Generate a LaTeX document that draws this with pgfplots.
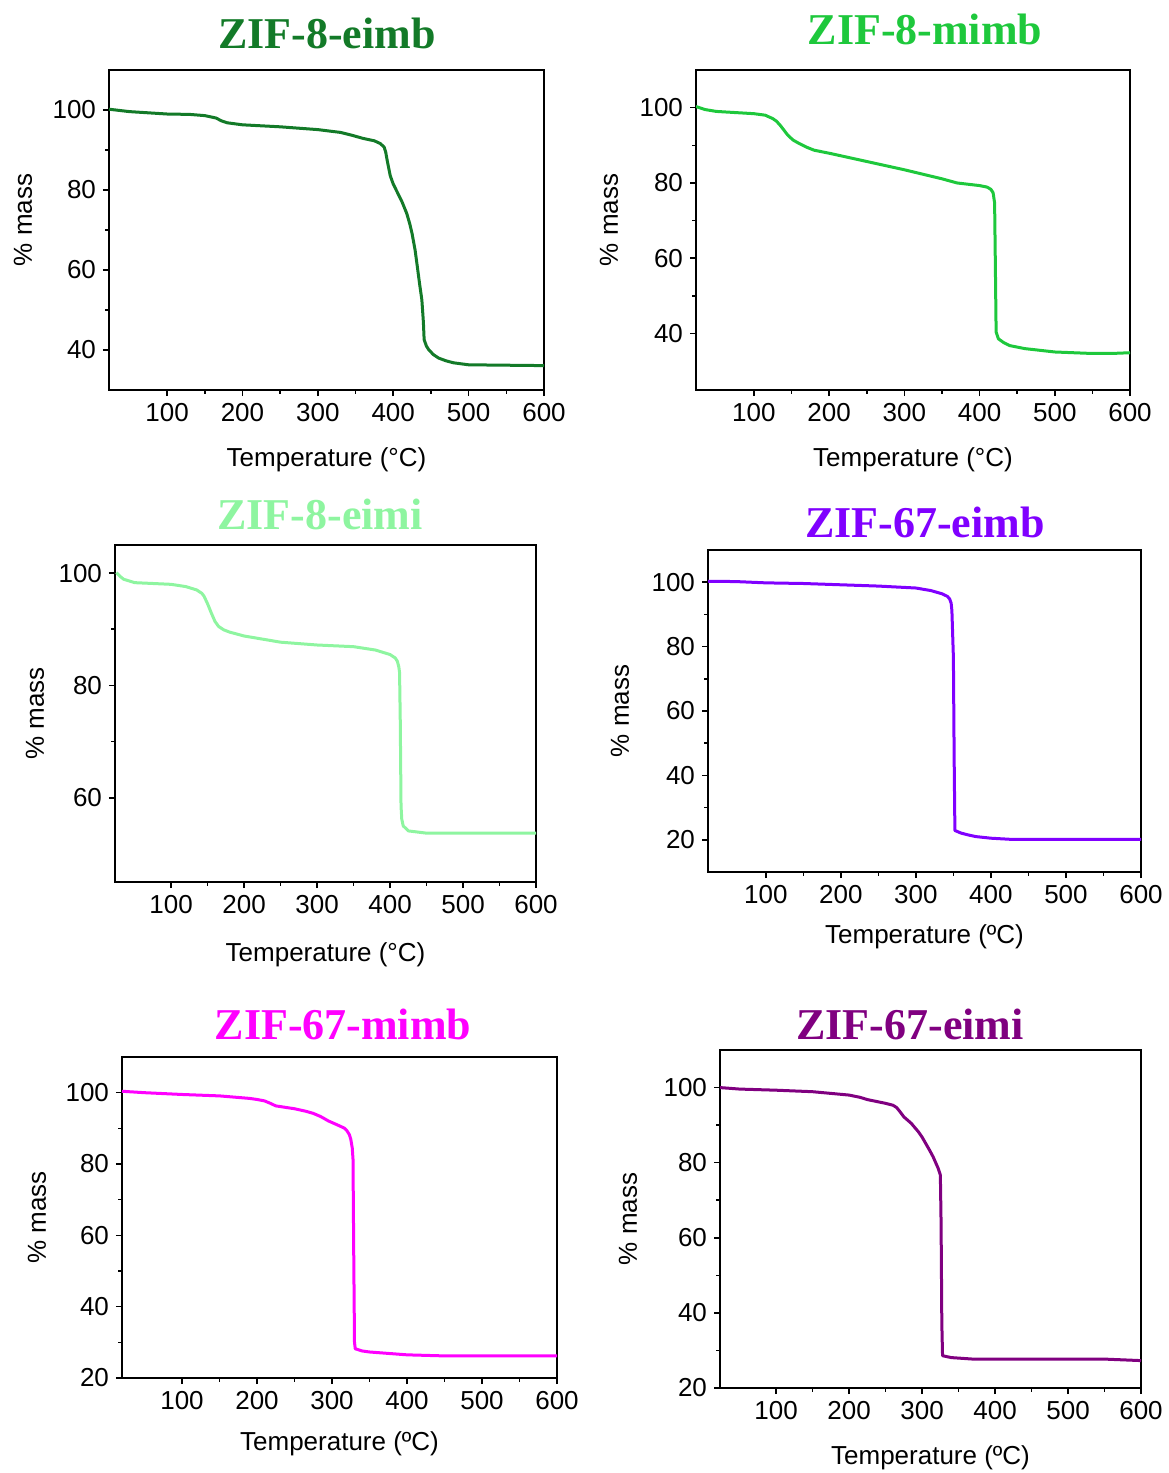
\documentclass[border=0pt]{standalone}
\usepackage{pgfplots}
\pgfplotsset{compat=1.18}
\usepackage{fontspec}
\setmainfont{Liberation Sans}
\newfontfamily\titlefont{Liberation Serif}
\definecolor{c1}{HTML}{137A28}
\definecolor{c2}{HTML}{1EC83C}
\definecolor{c3}{HTML}{8EF5A0}
\definecolor{c4}{HTML}{8000FF}
\definecolor{c5}{HTML}{FF00FF}
\definecolor{c6}{HTML}{800080}
\newcommand{\lblfont}{\fontsize{13}{13}\selectfont}
\pgfplotsset{
  tga/.style={
    scale only axis,
    xmin=23, xmax=600,
    xtick={100,200,...,600},
    minor x tick num=1, minor y tick num=1,
    tick align=outside, tick pos=left,
    axis line style={line width=1pt},
    every tick/.style={black, line width=0.8pt},
    major tick length=3pt, minor tick length=1.8pt,
    tick label style={font=\fontsize{13}{13}\selectfont},
    /pgf/number format/assume math mode=true,
    ylabel={\% mass},
    clip=true,
  },
  xl/.style={every axis x label/.style={at={([yshift=-#1]axis description cs:0.5,0)}, anchor=center, font=\lblfont}},
  yl/.style 2 args={every axis y label/.style={at={([xshift=-#1,yshift=#2]axis description cs:0,0.5)}, rotate=90, anchor=center, font=\lblfont}},
  curve/.style={line width=1.5pt, no marks, line join=round},
}
\begin{document}
\begin{tikzpicture}
\path[use as bounding box] (0,0) rectangle (584pt,-736.5pt);

% Panel 1: ZIF-8-eimb
\begin{axis}[tga, width=217.5pt, height=160pt, at={(54.5pt,-195pt)}, anchor=south west,
  ymin=30, ymax=110, ytick={40,60,80,100},
  xlabel={Temperature (°C)}, xl=35pt, yl={43pt}{5pt}]
\addplot[curve, c1] coordinates {
(23,100.2) (50,99.6) (100,99.0) (130,98.9) (150,98.6) (165,98.0) (172,97.3) (180,96.8) (200,96.3) (250,95.8) (300,95.1) (330,94.4) (345,93.7) (360,92.9) (375,92.3) (383,91.6) (388,90.7) (390,89.5) (392,87.4) (396,83.6) (400,81.5) (405,79.6) (412,76.9) (418,74.1) (422,71.5) (425,69.1) (429,65) (432,60.8) (435,56.5) (438,52.5) (440,47) (441,42.6) (444,41.0) (447,40.1) (453,38.9) (460,38.0) (470,37.3) (480,36.8) (500,36.3) (550,36.2) (600,36.1)};
\end{axis}

% Panel 2: ZIF-8-mimb
\begin{axis}[tga, width=217pt, height=160pt, at={(348pt,-195pt)}, anchor=south west,
  ymin=25, ymax=110, ytick={40,60,80,100},
  xlabel={Temperature (°C)}, xl=35pt, yl={43.5pt}{5pt}]
\addplot[curve, c2] coordinates {
(23,100.3) (35,99.5) (50,99.0) (75,98.7) (100,98.4) (115,98.0) (125,97.1) (130,96.4) (135,95.3) (140,94.0) (145,92.7) (152,91.4) (160,90.5) (170,89.5) (180,88.7) (200,87.9) (250,85.7) (300,83.5) (350,81.1) (370,80.0) (400,79.3) (410,78.9) (415,78.3) (418,77.4) (420,74.7) (421,58) (422,40.4) (425,38.6) (432,37.6) (440,36.8) (460,36.0) (500,35.1) (550,34.7) (575,34.7) (600,34.9)};
\end{axis}

% Panel 3: ZIF-8-eimi
\begin{axis}[tga, width=210.5pt, height=168.5pt, at={(57.5pt,-441pt)}, anchor=south west,
  ymin=45, ymax=105, ytick={60,80,100},
  xlabel={Temperature (°C)}, xl=36.5pt, yl={40pt}{0pt}]
\addplot[curve, c3] coordinates {
(25,100.1) (30,99.4) (35,98.9) (50,98.3) (100,98.0) (120,97.6) (135,97.0) (142,96.4) (145,95.9) (150,94.5) (155,92.9) (160,91.4) (165,90.5) (172,89.9) (180,89.5) (200,88.8) (250,87.7) (300,87.2) (350,86.9) (380,86.3) (400,85.5) (407,84.9) (410,84.3) (412,83.3) (413,82.3) (414,73.4) (415,58.6) (416,56.2) (418,55.0) (425,54.1) (450,53.7) (600,53.7)};
\end{axis}

% Panel 4: ZIF-67-eimb
\begin{axis}[tga, width=216.5pt, height=161pt, at={(354pt,-436pt)}, anchor=south west,
  ymin=10, ymax=110, ytick={20,40,60,80,100},
  xlabel={Temperature (ºC)}, xl=32.5pt, yl={44pt}{0pt}]
\addplot[curve, c4] coordinates {
(23,100.3) (60,100.2) (100,99.8) (150,99.6) (200,99.2) (250,98.8) (300,98.2) (320,97.4) (335,96.4) (342,95.6) (345,94.8) (347,93.5) (348,91.2) (350,76.7) (351,45.7) (352,22.9) (360,22.1) (370,21.5) (380,21.0) (400,20.5) (430,20.1) (600,20.1)};
\end{axis}

% Panel 5: ZIF-67-mimb
\begin{axis}[tga, width=217.5pt, height=160.5pt, at={(61pt,-689pt)}, anchor=south west,
  xmin=20,
  ymin=20, ymax=110, ytick={20,40,60,80,100},
  xlabel={Temperature (ºC)}, xl=33pt, yl={42.5pt}{0pt}]
\addplot[curve, c5] coordinates {
(20,100.4) (50,100.0) (100,99.5) (150,99.1) (190,98.4) (200,98.1) (210,97.7) (218,97.0) (225,96.3) (250,95.5) (265,94.8) (275,94.2) (285,93.3) (295,92.1) (310,90.7) (317,90.0) (320,89.3) (323,88.3) (325,87.0) (327,84.5) (328,81.4) (329,54.3) (330,30.0) (331,28.2) (340,27.6) (350,27.3) (400,26.5) (450,26.2) (600,26.2)};
\end{axis}

% Panel 6: ZIF-67-eimi
\begin{axis}[tga, width=210.5pt, height=169pt, at={(360pt,-694pt)}, anchor=south west,
  ymin=20, ymax=110, ytick={20,40,60,80,100},
  xlabel={Temperature (ºC)}, xl=35pt, yl={46pt}{0pt}]
\addplot[curve, c6] coordinates {
(23,100.0) (50,99.6) (100,99.3) (150,98.9) (200,98.0) (215,97.4) (225,96.8) (250,95.8) (260,95.3) (265,94.7) (270,93.5) (275,92.2) (285,90.5) (295,88.2) (300,86.8) (305,85.1) (310,83.4) (315,81.6) (322,78.5) (325,76.7) (326,63.9) (327,37.4) (328,28.6) (340,28.1) (370,27.7) (550,27.7) (600,27.3)};
\end{axis}

% Titles
\begin{scope}[every node/.style={font=\titlefont\bfseries\fontsize{22}{22}\selectfont, anchor=base}]
\node[text=c1] at (163.5pt,-24pt) {ZIF-8-eimb};
\node[text=c2] at (462.5pt,-22pt) {ZIF-8-mimb};
\node[text=c3] at (160pt,-264.5pt) {ZIF-8-eimi};
\node[text=c4] at (462.5pt,-268.5pt) {ZIF-67-eimb};
\node[text=c5] at (171.5pt,-519.5pt) {ZIF-67-mimb};
\node[text=c6] at (455pt,-519.5pt) {ZIF-67-eimi};
\end{scope}
\end{tikzpicture}
\end{document}
